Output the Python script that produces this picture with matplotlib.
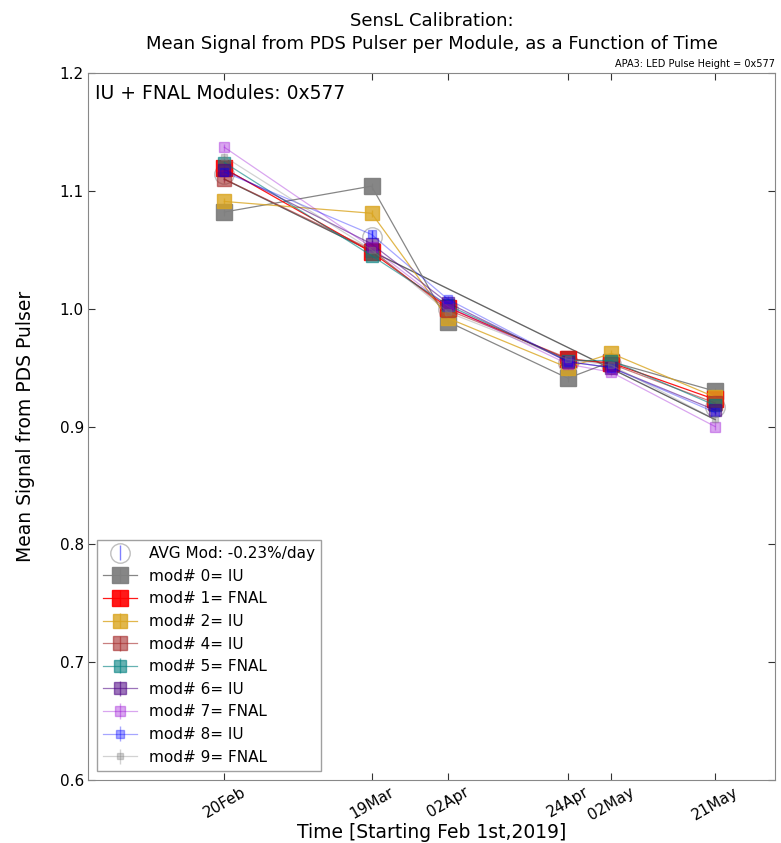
import matplotlib
matplotlib.use('Agg')
import matplotlib.pyplot as plt
import numpy as np

# days counted from Feb 1st (Feb 1 = 1)
days = [20, 47, 61, 83, 91, 110]
day_labels = ['20Feb', '19Mar', '02Apr', '24Apr', '02May', '21May']

mod_ids = [0, 1, 2, 4, 5, 6, 7, 8, 9]
mod_sites = ['IU', 'FNAL', 'IU', 'IU', 'FNAL', 'IU', 'FNAL', 'IU', 'FNAL']

mod0 = [1.082, 1.104, 0.989, 0.941, 0.955, 0.930]
mod1 = [1.119, 1.048, 1.001, 0.957, 0.954, 0.923]
mod2 = [1.091, 1.081, 0.992, 0.950, 0.962, 0.925]
mod4 = [1.110, 1.050, 0.999, 0.958, 0.953, 0.920]
mod5 = [1.124, 1.045, 1.003, 0.956, 0.956, 0.918]
mod6 = [1.118, 1.055, 1.005, 0.955, 0.950, 0.914]
mod7 = [1.137, 1.052, 1.002, 0.953, 0.946, 0.900]
mod8 = [1.116, 1.063, 1.008, 0.955, 0.950, 0.912]
mod9 = [1.129, 1.050, 0.997, 0.957, 0.952, 0.906]
mod_err = 0.003

all_mods = [mod0, mod1, mod2, mod4, mod5, mod6, mod7, mod8, mod9]
colors = ['gray', 'red', 'goldenrod', 'brown', 'teal', 'indigo', 'darkviolet', 'blue', 'gray']
alphas = [0.95, 0.9, 0.8, 0.6, 0.6, 0.55, 0.35, 0.35, 0.35]
msizes = [11.5, 11.5, 10.5, 10, 9, 8, 6.5, 6, 4]

fig = plt.figure(figsize=(7.81, 8.43), dpi=100)
ax = fig.add_axes([0.1127, 0.0747, 0.8796, 0.8387])

avg = np.mean(np.array(all_mods), axis=0)
avg_err = np.std(np.array(all_mods), axis=0) / 3.0

ax.errorbar(days, avg, yerr=avg_err, fmt='o', mfc='none', mec='gray', ecolor='blue',
            ms=14, mew=1, alpha=0.5, elinewidth=1, label='AVG Mod: -0.23%/day')

for i, m in enumerate(all_mods):
    lbl = 'mod# %d= %s' % (mod_ids[i], mod_sites[i])
    ax.errorbar(days, m, yerr=mod_err, fmt='s-', color=colors[i], ms=msizes[i],
                mec=colors[i], alpha=alphas[i], lw=0.9, elinewidth=1, label=lbl)

# linear fit of the average
p = np.polyfit(days, avg, 1)
fx = np.array([days[0], days[-1]])
ax.plot(fx, np.polyval(p, fx), '-', color='black', lw=1, alpha=0.6)

ax.set_xlim(-5, 121)
ax.set_ylim(0.6, 1.2)
ax.set_xticks(days)
ax.set_xticklabels(day_labels, rotation=30, fontsize=11)
ax.set_yticks([0.6, 0.7, 0.8, 0.9, 1.0, 1.1, 1.2])
ax.tick_params(axis='y', labelsize=11)
ax.tick_params(direction='in', top=True, right=True, length=5, color='#333333', pad=3)
for s in ax.spines.values():
    s.set_color('#888888')

ax.set_xlabel('Time [Starting Feb 1st,2019]', fontsize=13.5, labelpad=0)
ax.set_ylabel('Mean Signal from PDS Pulser', fontsize=13.5, labelpad=18)
ax.set_title('SensL Calibration:\nMean Signal from PDS Pulser per Module, as a Function of Time',
             fontsize=13, pad=17, linespacing=1.4)
ax.text(1.0, 1.005, 'APA3: LED Pulse Height = 0x577', transform=ax.transAxes,
        ha='right', va='bottom', fontsize=7)
ax.text(0.01, 0.985, 'IU + FNAL Modules: 0x577', transform=ax.transAxes,
        ha='left', va='top', fontsize=13.5)

leg = ax.legend(loc='lower left', numpoints=1, fontsize=11, fancybox=False,
                borderaxespad=0.6, handlelength=2.2)
leg.get_frame().set_edgecolor('#888888')

plt.savefig('out.png', dpi=100)
